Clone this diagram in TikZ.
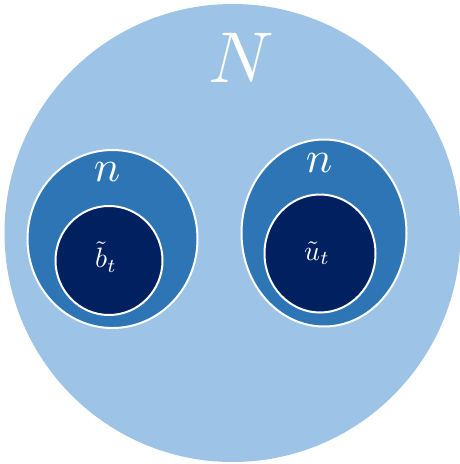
\documentclass[tikz,border=0pt]{standalone}
\usepackage{fix-cm}
\definecolor{outerblue}{HTML}{9DC3E6}
\definecolor{midblue}{HTML}{2E75B6}
\definecolor{darkblue}{HTML}{002060}
\begin{document}
\begin{tikzpicture}[x=1pt,y=-1pt,
  ring/.style={draw=white, line width=2pt},
  lbl/.style={text=white, inner sep=0pt}]
\useasboundingbox (0,0) rectangle (460,464);
\fill[outerblue] (232.5,233) ellipse [x radius=228pt, y radius=229pt];
% left group
\filldraw[ring, fill=midblue] (112.5,239) ellipse [x radius=85pt, y radius=89pt];
\filldraw[ring, fill=darkblue] (109,260.5) ellipse [x radius=53.5pt, y radius=54.5pt];
% right group
\filldraw[ring, fill=midblue] (324,233) ellipse [x radius=82.5pt, y radius=93.5pt];
\filldraw[ring, fill=darkblue] (320,253.5) ellipse [x radius=55.5pt, y radius=59pt];
% labels
\node[lbl] (N) at (241,58) {\scalebox{7.2}{$N$}};
\node[lbl] (nL) at (107,172) {\scalebox{4.4}{$n$}};
\node[lbl] (nR) at (319,163) {\scalebox{4.4}{$n$}};
\node[lbl] (b) at (106,257) {\scalebox{2.8}{$\tilde{b}_t$}};
\node[lbl] (u) at (317,253) {\scalebox{2.8}{$\tilde{u}_t$}};
\end{tikzpicture}
\end{document}
